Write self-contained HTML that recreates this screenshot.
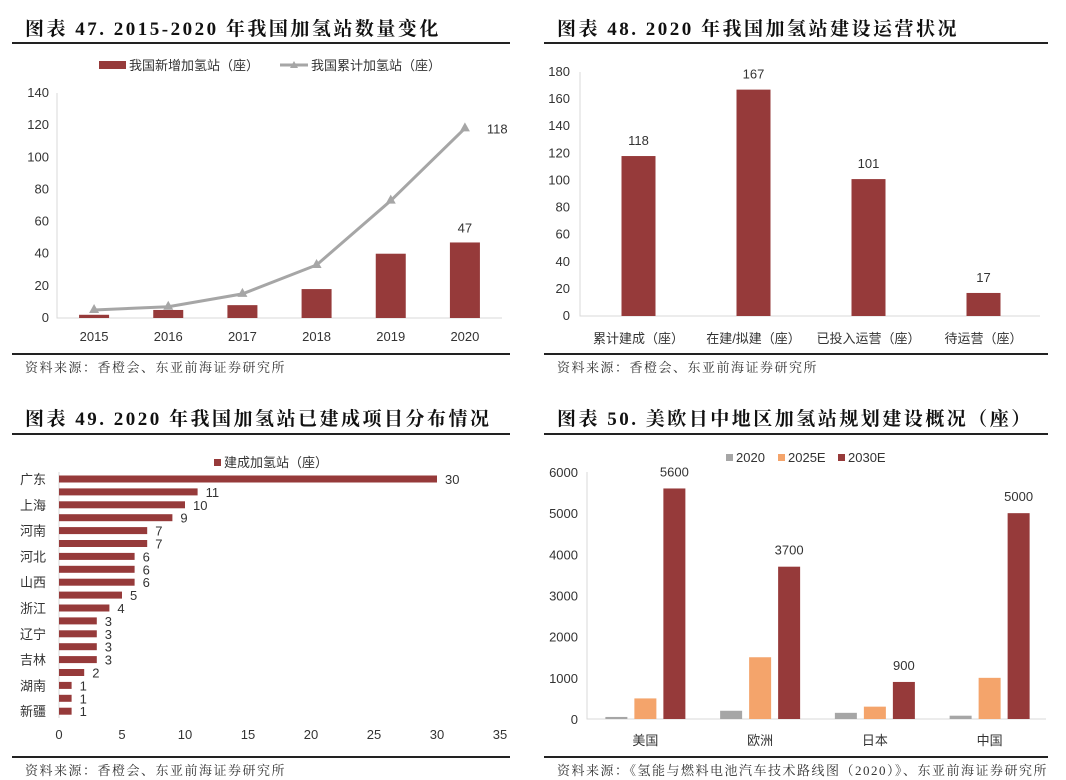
<!DOCTYPE html>
<html><head><meta charset="utf-8">
<style>
html,body{margin:0;padding:0;background:#fff;}
svg{display:block;}
.t{font-family:"Liberation Serif","Noto Serif CJK SC",serif;font-weight:bold;font-size:19px;fill:#111;letter-spacing:2.5px;}
.s{font-family:"Liberation Serif","Noto Serif CJK SC",serif;font-size:13px;fill:#333;letter-spacing:1.5px;}
.a{font-family:"Liberation Sans","Noto Sans CJK SC",sans-serif;font-size:13px;fill:#333;}
</style></head>
<body>
<svg id="fig" width="1066" height="780" viewBox="0 0 1066 780">
<g>
<text class="t" x="25" y="35">图表 47. 2015-2020 年我国加氢站数量变化</text>
<rect x="12" y="42" width="498" height="2" fill="#222"/>
<rect x="12" y="353" width="498" height="2" fill="#222"/>
<text class="s" x="25" y="372">资料来源：香橙会、东亚前海证券研究所</text>
</g>
<g>
<text class="t" x="557" y="35">图表 48. 2020 年我国加氢站建设运营状况</text>
<rect x="544" y="42" width="504" height="2" fill="#222"/>
<rect x="544" y="353" width="504" height="2" fill="#222"/>
<text class="s" x="557" y="372">资料来源：香橙会、东亚前海证券研究所</text>
</g>
<g>
<text class="t" x="25" y="425">图表 49. 2020 年我国加氢站已建成项目分布情况</text>
<rect x="12" y="433" width="498" height="2" fill="#222"/>
<rect x="12" y="756" width="498" height="2" fill="#222"/>
<text class="s" x="25" y="775">资料来源：香橙会、东亚前海证券研究所</text>
</g>
<g>
<text class="t" x="557" y="425">图表 50. 美欧日中地区加氢站规划建设概况（座）</text>
<rect x="544" y="433" width="504" height="2" fill="#222"/>
<rect x="544" y="756" width="504" height="2" fill="#222"/>
<text class="s" x="557" y="775">资料来源：《氢能与燃料电池汽车技术路线图（2020）》、东亚前海证券研究所</text>
</g>
</svg>
<script>
// ---- chart 47 data
const years47 = ['2015','2016','2017','2018','2019','2020'];
const newStations47 = [2,5,8,18,40,47];
const cumStations47 = [5,7,15,33,73,118];
const ticks47 = [0,20,40,60,80,100,120,140];
// ---- chart 48 data
const cats48 = ['累计建成（座）','在建/拟建（座）','已投入运营（座）','待运营（座）'];
const vals48 = [118,167,101,17];
const ticks48 = [0,20,40,60,80,100,120,140,160,180];
// ---- chart 49 data
const provs49 = ['广东','','上海','','河南','','河北','','山西','','浙江','','辽宁','','吉林','','湖南','','新疆'];
const vals49 = [30,11,10,9,7,7,6,6,6,5,4,3,3,3,3,2,1,1,1];
const ticks49 = [0,5,10,15,20,25,30,35];
// ---- chart 50 data
const regions50 = ['美国','欧洲','日本','中国'];
const s2020 = [50,200,150,80];
const s2025 = [500,1500,300,1000];
const s2030 = [5600,3700,900,5000];
const ticks50 = [0,1000,2000,3000,4000,5000,6000];

const RED='#963a3a', GRAY='#a6a6a6', ORANGE='#f4a46b';
const svg=document.getElementById('fig');
const NS='http://www.w3.org/2000/svg';
function mk(tag,attrs,parent,txt){const e=document.createElementNS(NS,tag);for(const k in attrs)e.setAttribute(k,attrs[k]);if(txt!==undefined)e.textContent=txt;(parent||svg).appendChild(e);return e;}

// ===== chart 47
(function(){
  const g=mk('g',{});
  
  
  const x0=57,x1=502,yb=318,yt=93,max=140;
  const y=v=>yb-(v/max)*(yb-yt);
  const step=(x1-x0)/years47.length;
  const cx=i=>x0+step*(i+0.5);
  ticks47.forEach(t=>{const e=mk('text',{class:'a',x:x0-8,y:y(t)+4,'text-anchor':'end'},g,String(t));
    
    });
  const ax=mk('path',{d:`M${x0} ${yt}V${yb}H${x1}`,stroke:'#d9d9d9',fill:'none'},g);
  
  
  years47.forEach((c,i)=>{
    const b=mk('rect',{x:cx(i)-15,y:y(newStations47[i]),width:30,height:yb-y(newStations47[i]),fill:RED},g);
    
    
    const l=mk('text',{class:'a',x:cx(i),y:yb+23,'text-anchor':'middle'},g,c);
    
    
  });
  const pts=cumStations47.map((v,i)=>cx(i)+','+y(v)).join(' ');
  const ln=mk('polyline',{points:pts,fill:'none',stroke:GRAY,'stroke-width':3},g);
  
  
  cumStations47.forEach((v,i)=>{const p=mk('path',{d:`M${cx(i)} ${y(v)-6}l5 9h-10z`,fill:GRAY},g);
    
    });
  const n=years47.length-1;
  const l1=mk('text',{class:'a',x:cx(n)+22,y:y(cumStations47[n])+5},g,String(cumStations47[n]));
  
  
  const l2=mk('text',{class:'a',x:cx(n),y:y(newStations47[n])-10,'text-anchor':'middle'},g,String(newStations47[n]));
  
  
  const lg=mk('g',{},g);
  
  
  mk('rect',{x:99,y:61,width:27,height:8,fill:RED},lg);
  mk('text',{class:'a',x:129,y:70,'font-size':'12'},lg,'我国新增加氢站（座）');
  mk('line',{x1:280,y1:65,x2:308,y2:65,stroke:GRAY,'stroke-width':3},lg);
  mk('path',{d:'M294 61l4 7h-8z',fill:GRAY},lg);
  mk('text',{class:'a',x:311,y:70,'font-size':'12'},lg,'我国累计加氢站（座）');
})();

// ===== chart 48
(function(){
  const g=mk('g',{});
  
  
  const x0=580,x1=1040,yb=316,yt=72,max=180;
  const y=v=>yb-(v/max)*(yb-yt);
  const step=(x1-x0)/cats48.length;
  const cx=i=>x0+step*(i+0.5)+1;
  ticks48.forEach(t=>{const e=mk('text',{class:'a',x:x0-10,y:y(t)+4,'text-anchor':'end'},g,String(t));
    
    });
  const ax=mk('path',{d:`M${x0} ${yt}V${yb}H${x1}`,stroke:'#d9d9d9',fill:'none'},g);
  
  
  cats48.forEach((c,i)=>{
    const b=mk('rect',{x:cx(i)-17,y:y(vals48[i]),width:34,height:yb-y(vals48[i]),fill:RED},g);
    
    
    const v=mk('text',{class:'a',x:cx(i),y:y(vals48[i])-11,'text-anchor':'middle'},g,String(vals48[i]));
    
    
    const l=mk('text',{class:'a',x:cx(i),y:yb+27,'text-anchor':'middle'},g,c);
    
    
  });
})();

// ===== chart 49
(function(){
  const g=mk('g',{});
  
  
  const x0=59,xr=500,max=35,yTop=479,step=12.9;
  const x=v=>x0+(v/max)*(xr-x0);
  ticks49.forEach(t=>{const e=mk('text',{class:'a',x:x(t),y:739,'text-anchor':'middle'},g,String(t));
    
    });
  const ax=mk('line',{x1:x0,y1:472,x2:x0,y2:718,stroke:'#d9d9d9'},g);
  
  
  vals49.forEach((v,i)=>{
    const cy=yTop+i*step;
    const b=mk('rect',{x:x0,y:cy-3.5,width:x(v)-x0,height:7,fill:RED},g);
    
    
    const t=mk('text',{class:'a',x:x(v)+8,y:cy+5},g,String(v));
    
    
    if(provs49[i]){const l=mk('text',{class:'a',x:20,y:cy+5},g,provs49[i]);
      
      }
  });
  const lg=mk('g',{},g);
  
  
  mk('rect',{x:214,y:459,width:7,height:7,fill:RED},lg);
  mk('text',{class:'a',x:224,y:467,'font-size':'12'},lg,'建成加氢站（座）');
})();

// ===== chart 50
(function(){
  const g=mk('g',{});
  
  
  const x0=587,x1=1046,yb=719,yt=472,max=6000;
  const y=v=>yb-(v/max)*(yb-yt);
  const step=(x1-x0)/regions50.length;
  const cx=i=>x0+step*(i+0.5)+1;
  ticks50.forEach(t=>{const e=mk('text',{class:'a',x:x0-9,y:y(t)+5,'text-anchor':'end'},g,String(t));
    
    });
  const ax=mk('path',{d:`M${x0} ${yt}V${yb}H${x1}`,stroke:'#d9d9d9',fill:'none'},g);
  
  
  const series=[[s2020,GRAY,-29,'2020'],[s2025,ORANGE,0,'2025e'],[s2030,RED,29,'2030e']];
  regions50.forEach((r,i)=>{
    series.forEach(([arr,col,off,nm])=>{
      const b=mk('rect',{x:cx(i)+off-11,y:y(arr[i]),width:22,height:yb-y(arr[i]),fill:col},g);
      
      
    });
    const v=mk('text',{class:'a',x:cx(i)+29,y:y(s2030[i])-12,'text-anchor':'middle'},g,String(s2030[i]));
    
    
    const l=mk('text',{class:'a',x:cx(i),y:745,'text-anchor':'middle'},g,r);
    
    
  });
  const lg=mk('g',{},g);
  
  
  [['2020',GRAY,726],['2025E',ORANGE,778],['2030E',RED,838]].forEach(([t,c,lx])=>{
    mk('rect',{x:lx,y:454,width:7,height:7,fill:c},lg);
    mk('text',{class:'a',x:lx+10,y:462,'font-size':'12'},lg,t);
  });
})();
</script>
</body></html>
